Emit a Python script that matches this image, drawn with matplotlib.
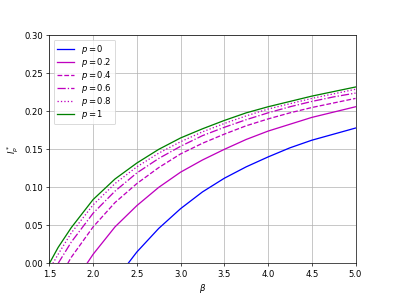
import matplotlib
matplotlib.use("Agg")
import matplotlib.pyplot as plt

# values
beta_p0 = [2.40, 2.50, 2.75, 3.00, 3.25, 3.50, 3.75, 4.00, 4.25, 4.50, 4.75, 5.00]
I_p0 = [0.000, 0.015, 0.046, 0.072, 0.094, 0.112, 0.127, 0.140, 0.152, 0.162, 0.170, 0.178]

beta_p02 = [1.93, 2.00, 2.25, 2.50, 2.75, 3.00, 3.25, 3.50, 3.75, 4.00, 4.25, 4.50, 4.75, 5.00]
I_p02 = [0.000, 0.012, 0.048, 0.076, 0.100, 0.120, 0.136, 0.150, 0.163, 0.174, 0.183, 0.192, 0.199, 0.206]

beta_p04 = [1.71, 1.75, 2.00, 2.25, 2.50, 2.75, 3.00, 3.25, 3.50, 3.75, 4.00, 4.25, 4.50, 4.75, 5.00]
I_p04 = [0.000, 0.008, 0.048, 0.080, 0.105, 0.126, 0.144, 0.158, 0.170, 0.181, 0.190, 0.198, 0.205, 0.211, 0.217]

beta_p06 = [1.60, 1.75, 2.00, 2.25, 2.50, 2.75, 3.00, 3.25, 3.50, 3.75, 4.00, 4.25, 4.50, 4.75, 5.00]
I_p06 = [0.000, 0.028, 0.066, 0.095, 0.119, 0.138, 0.154, 0.168, 0.179, 0.189, 0.198, 0.206, 0.213, 0.219, 0.224]

beta_p08 = [1.54, 1.60, 1.75, 2.00, 2.25, 2.50, 2.75, 3.00, 3.25, 3.50, 3.75, 4.00, 4.25, 4.50, 4.75, 5.00]
I_p08 = [0.000, 0.012, 0.040, 0.077, 0.105, 0.127, 0.145, 0.160, 0.173, 0.184, 0.194, 0.203, 0.210, 0.217, 0.223, 0.229]

beta_p1 = [1.50, 1.60, 1.75, 2.00, 2.25, 2.50, 2.75, 3.00, 3.25, 3.50, 3.75, 4.00, 4.25, 4.50, 4.75, 5.00]
I_p1 = [0.000, 0.021, 0.047, 0.084, 0.111, 0.132, 0.150, 0.165, 0.177, 0.188, 0.198, 0.206, 0.213, 0.220, 0.226, 0.232]

fig, ax = plt.subplots(figsize=(6.4, 4.8), dpi=61.72)

ax.plot(beta_p0, I_p0, 'b-', label='$p = 0$')
ax.plot(beta_p02, I_p02, 'm-', label='$p = 0.2$')
ax.plot(beta_p04, I_p04, 'm--', label='$p = 0.4$')
ax.plot(beta_p06, I_p06, 'm-.', label='$p = 0.6$')
ax.plot(beta_p08, I_p08, 'm:', label='$p = 0.8$')
ax.plot(beta_p1, I_p1, 'g-', label='$p = 1$')

ax.set_xlim(1.5, 5.0)
ax.set_ylim(0, 0.30)
ax.set_xlabel(r'$\beta$')
ax.set_ylabel(r'$I_p^*$')
ax.grid(True)
ax.legend(loc='upper left', labelspacing=0.0)

fig.savefig('out.png', dpi=61.72)
